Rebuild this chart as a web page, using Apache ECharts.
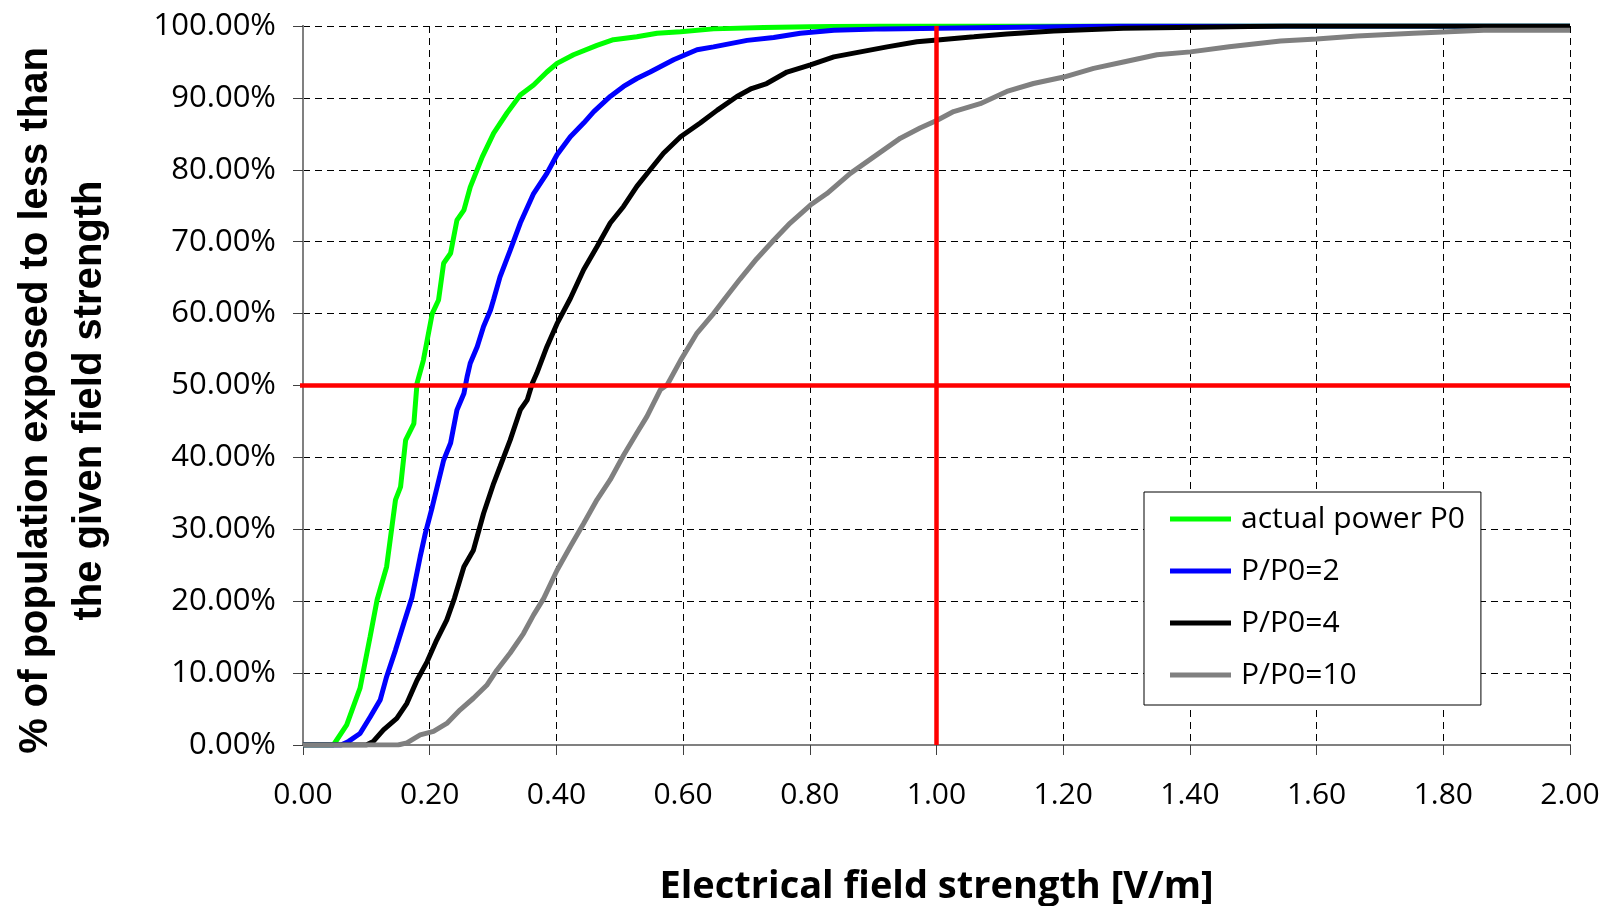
<!DOCTYPE html>
<html>
<head>
<meta charset="utf-8">
<title>Field strength exposure</title>
<script src="https://cdn.jsdelivr.net/npm/echarts@6/dist/echarts.min.js"></script>
<style>
  html, body { margin: 0; padding: 0; background: #fff; }
  #chart { width: 1609px; height: 906px; }
</style>
</head>
<body>
<div id="chart"></div>
<script>
// electrical field strength [V/m] / % of population below it
var greenX = [0, 0.048, 0.069, 0.09, 0.106, 0.117, 0.132, 0.146, 0.154, 0.162, 0.175, 0.18, 0.19, 0.196, 0.204, 0.214, 0.222, 0.233, 0.243, 0.254, 0.264, 0.283, 0.301, 0.322, 0.343, 0.364, 0.385, 0.401, 0.427, 0.464, 0.49, 0.527, 0.559, 0.596, 0.648, 0.727, 0.8, 0.91, 2.0];
var greenY = [0, 0, 2.8, 7.9, 15.1, 20.2, 24.8, 34.1, 35.9, 42.4, 44.7, 50.3, 53.5, 56.3, 60.0, 61.9, 67.0, 68.4, 73.0, 74.4, 77.6, 81.8, 85.1, 87.9, 90.4, 91.8, 93.6, 94.8, 96.0, 97.3, 98.1, 98.5, 99.0, 99.2, 99.6, 99.8, 99.9, 100, 100];

var blueX = [0, 0.06, 0.072, 0.09, 0.106, 0.122, 0.132, 0.146, 0.159, 0.172, 0.185, 0.193, 0.204, 0.222, 0.233, 0.243, 0.254, 0.259, 0.264, 0.275, 0.285, 0.296, 0.301, 0.311, 0.327, 0.343, 0.364, 0.385, 0.401, 0.422, 0.443, 0.459, 0.485, 0.506, 0.527, 0.548, 0.585, 0.622, 0.648, 0.701, 0.743, 0.785, 0.838, 0.917, 1.095, 1.29, 2.0];
var blueY = [0, 0, 0.5, 1.6, 3.9, 6.3, 9.5, 13.2, 16.9, 20.5, 26.2, 29.4, 33.1, 39.6, 42.0, 46.6, 48.9, 51.2, 53.1, 55.4, 58.2, 60.5, 62.0, 65.1, 68.8, 72.6, 76.7, 79.5, 82.1, 84.6, 86.5, 88.1, 90.2, 91.6, 92.7, 93.6, 95.3, 96.7, 97.1, 98.0, 98.4, 99.0, 99.4, 99.6, 99.8, 100, 100];

var blackX = [0, 0.1, 0.111, 0.127, 0.148, 0.164, 0.18, 0.196, 0.211, 0.227, 0.239, 0.254, 0.269, 0.285, 0.301, 0.311, 0.327, 0.343, 0.354, 0.362, 0.369, 0.385, 0.401, 0.422, 0.443, 0.464, 0.485, 0.506, 0.527, 0.548, 0.569, 0.596, 0.627, 0.654, 0.685, 0.708, 0.732, 0.764, 0.801, 0.838, 0.88, 0.922, 0.969, 1.006, 1.059, 1.111, 1.185, 1.295, 1.55, 2.0];
var blackY = [0, 0, 0.5, 2.1, 3.7, 5.8, 9.0, 11.6, 14.6, 17.4, 20.4, 24.8, 27.1, 32.2, 36.4, 38.7, 42.4, 46.6, 48.0, 50.3, 51.7, 55.4, 58.6, 62.1, 66.1, 69.3, 72.6, 74.9, 77.7, 80.0, 82.3, 84.6, 86.5, 88.3, 90.2, 91.3, 92.0, 93.6, 94.6, 95.7, 96.4, 97.1, 97.8, 98.1, 98.5, 98.9, 99.3, 99.7, 100, 100];

var grayX = [0, 0.15, 0.164, 0.185, 0.206, 0.227, 0.248, 0.269, 0.29, 0.306, 0.327, 0.348, 0.364, 0.38, 0.401, 0.422, 0.443, 0.464, 0.485, 0.506, 0.527, 0.543, 0.564, 0.575, 0.596, 0.622, 0.648, 0.667, 0.69, 0.716, 0.743, 0.769, 0.801, 0.827, 0.864, 0.901, 0.943, 0.974, 1.001, 1.027, 1.069, 1.111, 1.153, 1.201, 1.248, 1.295, 1.348, 1.401, 1.462, 1.543, 1.6, 1.664, 1.753, 1.864, 2.0];
var grayY = [0, 0, 0.3, 1.4, 1.9, 3.0, 4.9, 6.5, 8.3, 10.4, 12.8, 15.5, 18.1, 20.4, 24.3, 27.6, 30.8, 34.1, 36.9, 40.3, 43.4, 45.7, 49.4, 50.1, 53.5, 57.3, 60.0, 62.2, 64.8, 67.6, 70.2, 72.6, 75.1, 76.7, 79.5, 81.8, 84.4, 85.8, 86.9, 88.1, 89.2, 90.9, 92.0, 92.9, 94.1, 95.0, 96.0, 96.4, 97.1, 97.9, 98.2, 98.6, 99.0, 99.4, 99.4];

var seriesNames = ['actual power P0', 'P/P0=2', 'P/P0=4', 'P/P0=10'];
var seriesColors = ['#00ff00', '#0000ff', '#000000', '#808080'];

// red reference lines: 50 % of population, 1 V/m
var medianLevel = 50;
var refField = 1.0;

function pairs(xs, ys) {
  return xs.map(function (x, i) { return [x, ys[i]]; });
}

var curves = [pairs(greenX, greenY), pairs(blueX, blueY), pairs(blackX, blackY), pairs(grayX, grayY)];

var font = 'Open Sans';
var chart = echarts.init(document.getElementById('chart'));

var series = curves.map(function (d, i) {
  return {
    name: seriesNames[i],
    type: 'line',
    data: d,
    symbol: 'none',
    lineStyle: { color: seriesColors[i], width: 5 },
    itemStyle: { color: seriesColors[i] },
    z: 3 + i
  };
});
series.push({
  type: 'line',
  data: [[-0.012, medianLevel], [2, medianLevel]],
  symbol: 'none',
  silent: true,
  clip: false,
  lineStyle: { color: '#ff0000', width: 4.5 },
  z: 10
});
series.push({
  type: 'line',
  data: [[refField, 0], [refField, 100]],
  symbol: 'none',
  silent: true,
  lineStyle: { color: '#ff0000', width: 4.5 },
  z: 10
});

chart.setOption({
  animation: false,
  backgroundColor: '#fff',
  grid: { left: 303, right: 39, top: 26, bottom: 161, outerBoundsMode: 'none' },
  legend: {
    data: seriesNames,
    orient: 'vertical',
    left: 1144,
    top: 492,
    padding: [9, 16, 12, 26],
    icon: 'rect',
    itemWidth: 61,
    itemHeight: 5,
    itemGap: 16,
    borderColor: '#000',
    borderWidth: 1,
    backgroundColor: '#fff',
    textStyle: { fontFamily: font, fontSize: 30, color: '#000', lineHeight: 36, padding: [0, 0, 0, 5] }
  },
  xAxis: [{
    type: 'value',
    min: 0,
    max: 2,
    interval: 0.2,
    name: 'Electrical field strength [V/m]',
    nameLocation: 'middle',
    nameGap: 123,
    nameTextStyle: { fontFamily: font, fontSize: 38, fontWeight: 'bold', color: '#000' },
    axisLine: { lineStyle: { color: '#404040', width: 2 } },
    axisTick: { show: true, length: 10, lineStyle: { color: '#404040', width: 1 } },
    axisLabel: {
      margin: 35,
      fontFamily: font,
      fontSize: 30,
      color: '#000',
      formatter: function (v) { return v.toFixed(2); }
    },
    splitLine: { lineStyle: { color: '#000', width: 1, type: [7, 5] } }
  }, {
    type: 'value',
    position: 'top',
    min: 0,
    max: 2,
    axisLine: { show: true, lineStyle: { color: '#808080', width: 2 } },
    axisTick: { show: false },
    axisLabel: { show: false },
    splitLine: { show: false }
  }],
  yAxis: [{
    type: 'value',
    min: 0,
    max: 100,
    interval: 10,
    name: '% of population exposed to less than\nthe given field strength',
    nameLocation: 'middle',
    nameGap: 186,
    nameTextStyle: { fontFamily: 'Liberation Sans', fontSize: 40, fontWeight: 'bold', color: '#000', lineHeight: 54, padding: [0, 30, 0, 0] },
    axisLine: { show: true, lineStyle: { color: '#404040', width: 2 } },
    axisTick: { show: true, length: 10, lineStyle: { color: '#404040', width: 1 } },
    axisLabel: {
      margin: 27,
      fontFamily: font,
      fontSize: 31,
      color: '#000',
      formatter: function (v) { return v.toFixed(2) + '%'; }
    },
    splitLine: { lineStyle: { color: '#000', width: 1, type: [7, 5] } }
  }, {
    type: 'value',
    position: 'right',
    min: 0,
    max: 100,
    axisLine: { show: true, lineStyle: { color: '#808080', width: 2 } },
    axisTick: { show: false },
    axisLabel: { show: false },
    splitLine: { show: false }
  }],
  series: series
});
</script>
</body>
</html>
